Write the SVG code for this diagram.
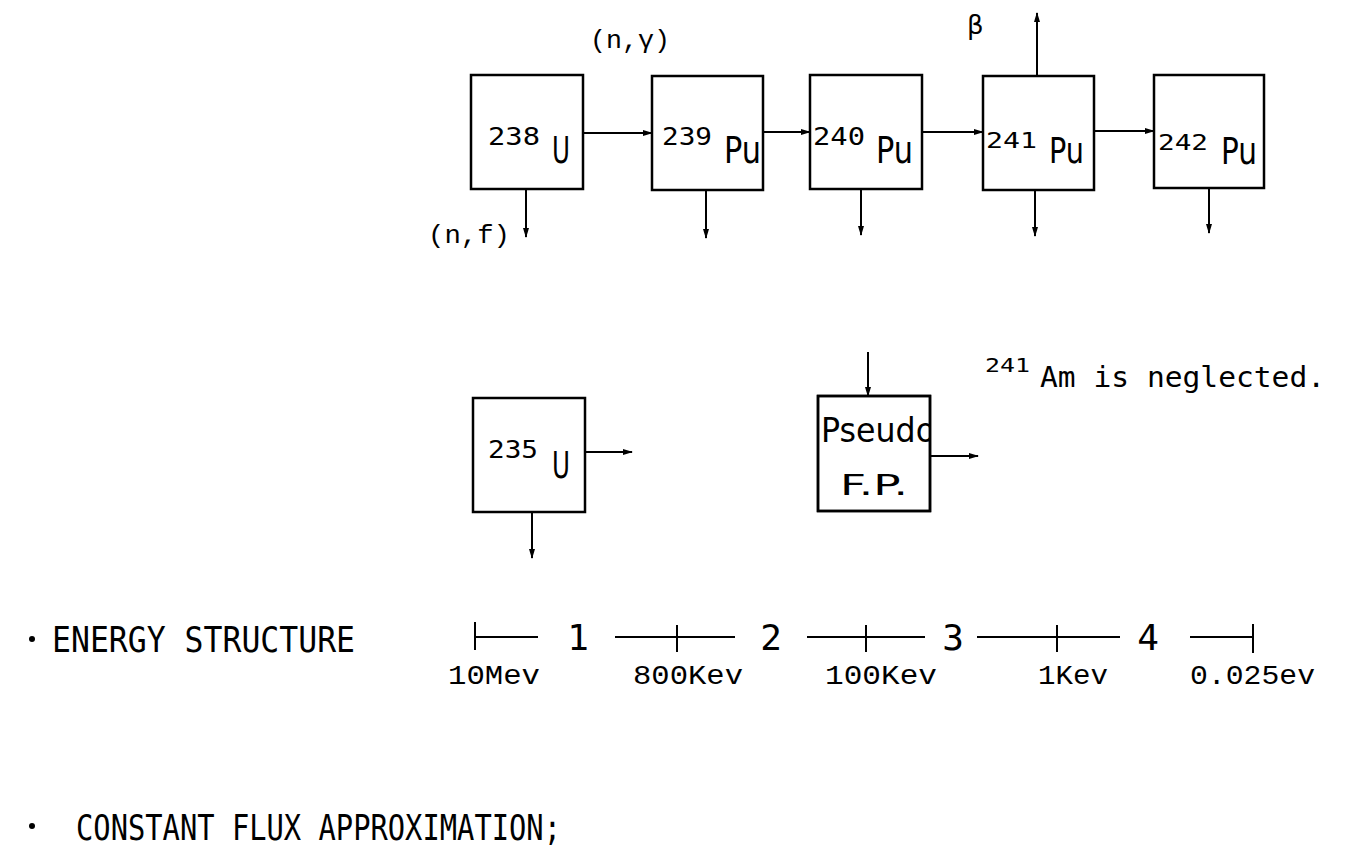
<svg xmlns="http://www.w3.org/2000/svg" width="1361" height="847" viewBox="0 0 1361 847">
<defs>
<marker id="ah" markerWidth="10" markerHeight="8" refX="9" refY="4" orient="auto" markerUnits="userSpaceOnUse"><path d="M0,1 L10,4 L0,7 z" fill="#000"/></marker>
<clipPath id="clipPseudo"><rect x="818" y="396" width="112" height="115"/></clipPath>
</defs>
<style>
.box{fill:#fff;stroke:#000;stroke-width:2.5}
.con{stroke:#000;stroke-width:2;fill:none}
.arr{marker-end:url(#ah)}
.tick{stroke:#000;stroke-width:2;fill:none}
.mono{font-family:"Liberation Mono","Courier New",monospace;fill:#000}
.sm{font-family:"DejaVu Sans Mono","Liberation Mono",monospace;fill:#000}
.sans{font-family:"DejaVu Sans","Liberation Sans",sans-serif;fill:#000}
</style>
<rect width="1361" height="847" fill="#fff"/>

<g id="connectors">
<path class="con arr" d="M583,133 H652"/>
<path class="con arr" d="M763,132 H810"/>
<path class="con arr" d="M922,132 H983"/>
<path class="con arr" d="M1094,131 H1154"/>
<path class="con arr" d="M526,189 V237"/>
<path class="con arr" d="M706,190 V238"/>
<path class="con arr" d="M861,189 V235"/>
<path class="con arr" d="M1035,190 V236"/>
<path class="con arr" d="M1209,189 V233"/>
<path class="con arr" d="M1037,76 V13"/>
<path class="con arr" d="M585,452 H632"/>
<path class="con arr" d="M532,512 V558"/>
<path class="con arr" d="M868,352 V396"/>
<path class="con arr" d="M930,456 H978"/>
</g>

<g id="n-u238">
<rect class="box" x="471" y="75" width="112" height="114"/>
<text class="sm" x="488" y="145" font-size="24" textLength="52" lengthAdjust="spacingAndGlyphs">238</text>
<text class="sans" x="552" y="163" font-size="38" textLength="18" lengthAdjust="spacingAndGlyphs">U</text>
</g>
<g id="n-pu239">
<rect class="box" x="652" y="76" width="111" height="114"/>
<text class="sm" x="662" y="145" font-size="24" textLength="50" lengthAdjust="spacingAndGlyphs">239</text>
<text class="sans" x="724" y="163" font-size="38" textLength="37" lengthAdjust="spacingAndGlyphs">Pu</text>
</g>
<g id="n-pu240">
<rect class="box" x="810" y="75" width="112" height="114"/>
<text class="sm" x="813" y="145" font-size="24" textLength="52" lengthAdjust="spacingAndGlyphs">240</text>
<text class="sans" x="876" y="163" font-size="38" textLength="37" lengthAdjust="spacingAndGlyphs">Pu</text>
</g>
<g id="n-pu241">
<rect class="box" x="983" y="76" width="111" height="114"/>
<text class="sm" x="986" y="148" font-size="22" textLength="51" lengthAdjust="spacingAndGlyphs">241</text>
<text class="sans" x="1049" y="163" font-size="36" textLength="35" lengthAdjust="spacingAndGlyphs">Pu</text>
</g>
<g id="n-pu242">
<rect class="box" x="1154" y="75" width="110" height="113"/>
<text class="sm" x="1158" y="150" font-size="22" textLength="50" lengthAdjust="spacingAndGlyphs">242</text>
<text class="sans" x="1221" y="164" font-size="37" textLength="36" lengthAdjust="spacingAndGlyphs">Pu</text>
</g>

<g id="n-u235">
<rect class="box" x="473" y="398" width="112" height="114"/>
<text class="sm" x="488" y="458" font-size="24" textLength="50" lengthAdjust="spacingAndGlyphs">235</text>
<text class="sans" x="552" y="478" font-size="38" textLength="18" lengthAdjust="spacingAndGlyphs">U</text>
</g>
<g id="n-pseudo">
<rect class="box" x="818" y="396" width="112" height="115"/>
<text class="sans" x="821" y="442" font-size="33" textLength="114" lengthAdjust="spacingAndGlyphs" clip-path="url(#clipPseudo)">Pseudo</text>
<text class="sans" x="840" y="495" font-size="28" textLength="68" lengthAdjust="spacingAndGlyphs">F.P.</text>
<rect x="818" y="396" width="112" height="115" fill="none" stroke="#000" stroke-width="2.5"/>
</g>

<g id="labels">
<text class="mono" x="590" y="48" font-size="26" textLength="80" lengthAdjust="spacingAndGlyphs">(n,γ)</text>
<text class="mono" x="428" y="243" font-size="26" textLength="82" lengthAdjust="spacingAndGlyphs">(n,f)</text>
<text class="sans" x="967" y="34" font-size="26">β</text>
<text class="sm" x="985" y="372" font-size="20" textLength="45" lengthAdjust="spacingAndGlyphs">241</text>
<text class="sm" x="1040" y="387" font-size="28" textLength="285" lengthAdjust="spacingAndGlyphs">Am is neglected.</text>
</g>

<g id="energy">
<circle cx="32" cy="639" r="3" fill="#000"/>
<text class="sm" x="52" y="652" font-size="36" textLength="303" lengthAdjust="spacingAndGlyphs">ENERGY STRUCTURE</text>
<path class="tick" d="M475,622 V650 M475,637 H538 M615,637 H735 M677,625 V652 M807,637 H925 M866,625 V652 M977,637 H1120 M1057,625 V652 M1190,637 H1253 M1253,624 V653"/>
<text class="sm" x="578" y="650" font-size="36" text-anchor="middle">1</text>
<text class="sm" x="771" y="650" font-size="36" text-anchor="middle">2</text>
<text class="sm" x="953" y="650" font-size="36" text-anchor="middle">3</text>
<text class="sm" x="1148" y="650" font-size="36" text-anchor="middle">4</text>
<text class="mono" x="448" y="684" font-size="28" textLength="92" lengthAdjust="spacingAndGlyphs">10Mev</text>
<text class="mono" x="633" y="684" font-size="28" textLength="110" lengthAdjust="spacingAndGlyphs">800Kev</text>
<text class="mono" x="825" y="684" font-size="28" textLength="112" lengthAdjust="spacingAndGlyphs">100Kev</text>
<text class="mono" x="1038" y="684" font-size="28" textLength="70" lengthAdjust="spacingAndGlyphs">1Kev</text>
<text class="mono" x="1190" y="684" font-size="28" textLength="125" lengthAdjust="spacingAndGlyphs">0.025ev</text>
</g>

<g id="flux">
<circle cx="32" cy="826" r="3" fill="#000"/>
<text class="sm" x="76" y="840" font-size="36" textLength="485" lengthAdjust="spacingAndGlyphs">CONSTANT FLUX APPROXIMATION;</text>
</g>
</svg>
